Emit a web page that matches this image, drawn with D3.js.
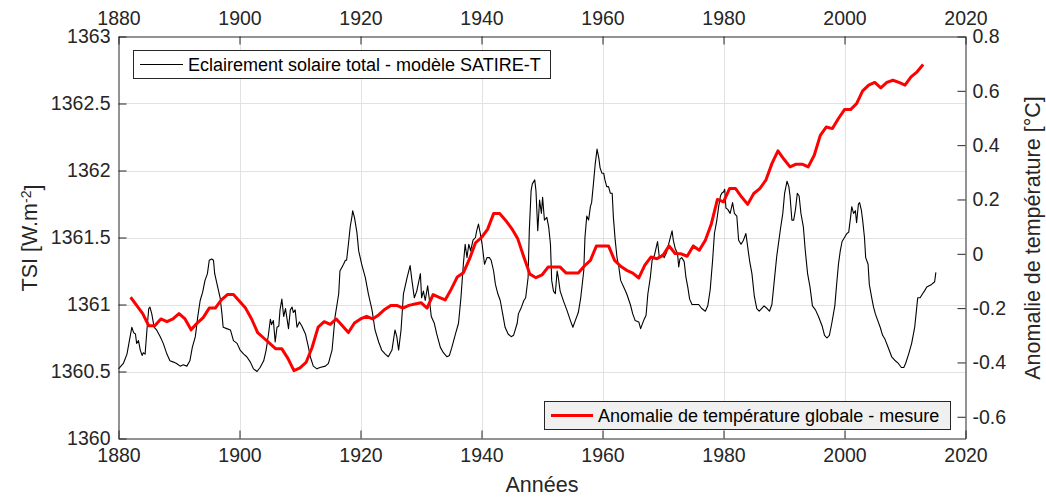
<!DOCTYPE html>
<html>
<head>
<meta charset="utf-8">
<script src="https://cdn.jsdelivr.net/npm/d3@7/dist/d3.min.js"></script>
<style>
  html, body { margin: 0; padding: 0; background: #fff; }
  svg { display: block; }
  text { font-family: "Liberation Sans", Arial, Helvetica, sans-serif; }
</style>
</head>
<body>
<svg id="chart" width="1046" height="499"></svg>
<script>
// ---------- DATA ----------
const xTicks = [1880, 1900, 1920, 1940, 1960, 1980, 2000, 2020];
const yLeftTicks = [1360, 1360.5, 1361, 1361.5, 1362, 1362.5, 1363];
const yRightTicks = [-0.6, -0.4, -0.2, 0, 0.2, 0.4, 0.6, 0.8];

// TSI (SATIRE-T model), W/m2
const tsiYears = [
1880.0,1880.8,1881.4,1881.8,1882.2,1882.5,1882.8,1883.0,1883.3,1883.6,1883.9,1884.1,1884.4,1884.7,1885.0,1885.2,1885.5,1885.9,1886.3,1886.9,
1887.4,1888.0,1888.5,1889.1,1889.6,1890.2,1890.7,1891.3,1891.8,1892.2,1892.7,1893.1,1893.5,1893.9,1894.3,1894.7,1895.0,1895.4,1895.7,1895.9,
1896.4,1896.8,1897.1,1897.3,1897.9,1898.5,1899.0,1899.6,1900.1,1900.7,1901.2,1901.8,1902.3,1902.9,1903.4,1904.0,1904.4,1904.8,1905.1,1905.3,
1905.6,1905.9,1906.2,1906.5,1906.7,1907.0,1907.3,1907.6,1907.8,1908.1,1908.4,1908.7,1908.9,1909.2,1909.5,1909.9,1910.3,1910.9,1911.4,1911.7,
1912.2,1912.8,1913.3,1914.2,1914.7,1915.3,1915.8,1916.4,1916.6,1917.2,1917.5,1917.7,1918.0,1918.3,1918.6,1918.7,1919.0,1919.4,1919.7,1920.2,
1920.8,1921.3,1921.9,1922.4,1923.0,1923.5,1924.1,1924.6,1925.2,1925.7,1926.0,1926.3,1926.7,1927.1,1927.7,1928.2,1928.5,1928.9,1929.3,1929.9,
1930.1,1930.4,1930.7,1931.1,1931.4,1931.7,1932.2,1932.6,1933.2,1933.7,1934.3,1934.7,1935.1,1935.7,1936.2,1936.6,1937.0,1937.3,1937.6,1937.9,
1938.2,1938.6,1939.0,1939.2,1939.5,1939.8,1940.1,1940.5,1940.9,1941.3,1941.6,1942.0,1942.3,1942.7,1943.1,1943.5,1943.9,1944.4,1944.9,1945.3,
1945.9,1946.1,1946.6,1947.0,1947.3,1947.7,1947.9,1948.2,1948.4,1948.8,1949.0,1949.3,1949.6,1949.9,1950.1,1950.4,1950.8,1951.1,1951.4,1951.6,
1951.9,1952.2,1952.5,1952.7,1953.0,1953.6,1954.1,1954.7,1955.1,1955.5,1956.0,1956.4,1956.9,1957.1,1957.4,1957.7,1958.0,1958.2,1958.5,1958.8,
1959.1,1959.4,1959.6,1959.9,1960.2,1960.4,1960.7,1961.0,1961.3,1961.6,1961.8,1962.1,1962.4,1962.7,1963.0,1963.5,1964.0,1964.6,1965.0,1965.4,
1966.0,1966.3,1966.8,1967.2,1967.5,1967.9,1968.2,1968.6,1968.9,1969.1,1969.4,1969.8,1970.2,1970.6,1971.1,1971.5,1971.7,1972.0,1972.4,1972.6,
1972.8,1973.1,1973.5,1973.8,1974.1,1974.4,1974.8,1975.3,1975.9,1976.4,1977.0,1977.4,1977.8,1978.2,1978.5,1978.9,1979.2,1979.5,1979.7,1980.0,
1980.2,1980.4,1980.7,1981.1,1981.5,1981.8,1982.2,1982.5,1982.9,1983.3,1983.7,1984.0,1984.3,1984.7,1985.1,1985.5,1985.9,1986.3,1986.7,1987.2,
1987.6,1988.0,1988.4,1988.8,1989.4,1989.8,1990.1,1990.5,1990.8,1991.0,1991.3,1991.6,1991.9,1992.2,1992.5,1992.8,1993.2,1993.5,1993.9,1994.3,
1994.7,1995.2,1995.7,1996.3,1996.7,1997.1,1997.5,1997.9,1998.4,1998.7,1999.0,1999.3,1999.6,2000.0,2000.4,2000.7,2001.0,2001.2,2001.5,2001.8,
2002.0,2002.3,2002.5,2002.8,2003.0,2003.3,2003.5,2003.9,2004.1,2004.5,2004.8,2005.1,2005.5,2005.9,2006.3,2006.7,2007.3,2007.8,2008.4,2008.9,
2009.4,2009.8,2010.1,2010.6,2011.1,2011.6,2011.9,2012.1,2012.5,2012.9,2013.2,2013.6,2014.0,2014.4,2014.9,2015.1
];
const tsiValues = [
1360.52,1360.56,1360.63,1360.73,1360.83,1360.79,1360.78,1360.71,1360.73,1360.66,1360.62,1360.64,1360.63,1360.81,1360.97,1360.98,1360.93,1360.83,1360.81,1360.76,
1360.71,1360.63,1360.58,1360.57,1360.56,1360.54,1360.55,1360.54,1360.58,1360.68,1360.76,1360.91,1361.03,1361.09,1361.18,1361.23,1361.33,1361.34,1361.33,1361.23,
1361.13,1361.05,1360.93,1360.83,1360.82,1360.81,1360.73,1360.71,1360.66,1360.63,1360.61,1360.57,1360.52,1360.50,1360.53,1360.58,1360.66,1360.78,1360.89,1360.85,
1360.88,1360.72,1360.83,1360.84,1360.96,1361.04,1360.91,1360.97,1360.91,1360.82,1360.96,1360.98,1360.94,1360.96,1360.83,1360.87,1360.84,1360.78,1360.68,1360.61,
1360.54,1360.52,1360.53,1360.54,1360.56,1360.66,1360.91,1361.08,1361.25,1361.30,1361.33,1361.33,1361.45,1361.58,1361.66,1361.70,1361.65,1361.54,1361.40,1361.30,
1361.20,1361.08,1360.96,1360.81,1360.72,1360.66,1360.63,1360.61,1360.66,1360.81,1360.76,1360.66,1360.81,1361.08,1361.20,1361.29,1361.18,1361.05,1361.10,1361.23,
1361.05,1361.10,1361.03,1361.14,1361.03,1360.91,1360.86,1360.78,1360.68,1360.64,1360.61,1360.62,1360.68,1360.78,1360.86,1361.05,1361.30,1361.45,1361.35,1361.45,
1361.40,1361.48,1361.50,1361.55,1361.60,1361.53,1361.45,1361.30,1361.35,1361.35,1361.33,1361.25,1361.15,1361.08,1361.03,1360.93,1360.83,1360.78,1360.76,1360.77,
1360.86,1360.93,1360.98,1361.03,1361.05,1361.20,1361.55,1361.85,1361.90,1361.93,1361.85,1361.55,1361.78,1361.68,1361.80,1361.63,1361.65,1361.58,1361.45,1361.18,
1361.10,1361.08,1361.25,1361.20,1361.10,1361.02,1360.96,1360.88,1360.83,1360.88,1360.94,1361.05,1361.25,1361.50,1361.66,1361.63,1361.73,1361.76,1361.90,1362.05,
1362.16,1362.09,1362.02,1361.98,1361.98,1361.93,1361.88,1361.88,1361.83,1361.83,1361.65,1361.48,1361.35,1361.28,1361.18,1361.13,1361.08,1361.00,1360.93,1360.88,
1360.87,1360.82,1360.88,1360.92,1361.08,1361.20,1361.33,1361.37,1361.43,1361.47,1361.35,1361.37,1361.35,1361.39,1361.48,1361.55,1361.48,1361.42,1361.38,1361.28,
1361.34,1361.35,1361.32,1361.20,1361.13,1361.04,1361.00,1361.00,1361.00,1360.97,1360.95,1360.99,1361.11,1361.33,1361.53,1361.63,1361.73,1361.81,1361.83,1361.84,
1361.86,1361.72,1361.71,1361.68,1361.76,1361.68,1361.66,1361.48,1361.45,1361.48,1361.53,1361.43,1361.33,1361.23,1361.06,1360.97,1360.95,1360.97,1360.99,1360.97,
1360.95,1361.00,1361.18,1361.36,1361.56,1361.68,1361.83,1361.92,1361.88,1361.81,1361.63,1361.63,1361.71,1361.83,1361.81,1361.68,1361.58,1361.41,1361.23,1361.13,
1360.99,1360.96,1360.91,1360.84,1360.77,1360.75,1360.77,1360.86,1360.99,1361.15,1361.30,1361.40,1361.47,1361.50,1361.53,1361.54,1361.65,1361.73,1361.68,1361.70,
1361.61,1361.75,1361.76,1361.70,1361.63,1361.50,1361.35,1361.30,1361.15,1361.05,1360.98,1360.93,1360.88,1360.83,1360.77,1360.74,1360.67,1360.61,1360.58,1360.56,
1360.53,1360.53,1360.56,1360.63,1360.71,1360.83,1360.96,1361.05,1361.05,1361.08,1361.10,1361.13,1361.14,1361.15,1361.17,1361.24
];

// Global temperature anomaly (measured, smoothed), degC
const tempYears = [
1882,1883,1884,1885,1886,1887,1888,1889,1890,1891,1892,1893,1894,1895,1896,1897,1898,1899,1900,1901,
1902,1903,1904,1905,1906,1907,1908,1909,1910,1911,1912,1913,1914,1915,1916,1917,1918,1919,1920,1921,
1922,1923,1924,1925,1926,1927,1928,1929,1930,1931,1932,1933,1934,1935,1936,1937,1938,1939,1940,1941,
1942,1943,1944,1945,1946,1947,1948,1949,1950,1951,1952,1953,1954,1955,1956,1957,1958,1959,1960,1961,
1962,1963,1964,1965,1966,1967,1968,1969,1970,1971,1972,1973,1974,1975,1976,1977,1978,1979,1980,1981,
1982,1983,1984,1985,1986,1987,1988,1989,1990,1991,1992,1993,1994,1995,1996,1997,1998,1999,2000,2001,
2002,2003,2004,2005,2006,2007,2008,2009,2010,2011,2012,2013
];
const tempValues = [
-0.16,-0.19,-0.22,-0.265,-0.265,-0.24,-0.25,-0.24,-0.22,-0.24,-0.28,-0.255,-0.235,-0.20,-0.20,-0.17,-0.15,-0.15,-0.175,-0.20,
-0.24,-0.29,-0.31,-0.33,-0.35,-0.35,-0.385,-0.43,-0.42,-0.40,-0.345,-0.27,-0.25,-0.26,-0.24,-0.265,-0.29,-0.255,-0.24,-0.23,
-0.24,-0.225,-0.205,-0.19,-0.19,-0.20,-0.19,-0.185,-0.18,-0.20,-0.15,-0.16,-0.17,-0.13,-0.085,-0.07,-0.02,0.04,0.06,0.09,
0.148,0.148,0.123,0.093,0.055,-0.012,-0.075,-0.088,-0.078,-0.049,-0.049,-0.049,-0.071,-0.071,-0.071,-0.045,-0.024,0.029,0.029,0.029,
-0.024,-0.046,-0.061,-0.071,-0.089,-0.042,-0.012,-0.018,-0.006,0.029,0.001,0.0,-0.009,0.029,0.013,0.05,0.111,0.20,0.191,0.24,
0.24,0.209,0.182,0.222,0.24,0.271,0.332,0.379,0.348,0.32,0.33,0.33,0.32,0.363,0.436,0.467,0.461,0.498,0.531,0.531,
0.553,0.60,0.621,0.631,0.611,0.631,0.639,0.631,0.621,0.651,0.67,0.697
];

const legendLabels = ["Eclairement solaire total - modèle SATIRE-T", "Anomalie de température globale - mesure"];

// ---------- LAYOUT ----------
const svg = d3.select("#chart");
const pL = 118.5, pR = 965.5, pT = 36.5, pB = 438.5;
const axisColor = "#262626";

const x = d3.scaleLinear().domain([1880, 2020]).range([pL, pR]);
const yL = d3.scaleLinear().domain([1360, 1363]).range([pB, pT]);
const yR = d3.scaleLinear().domain([-0.68, 0.8]).range([pB, pT]);

// grid
const grid = svg.append("g");
grid.selectAll("line.v").data(xTicks.slice(1, -1)).join("line")
  .attr("x1", d => Math.round(x(d)) + 0.5).attr("x2", d => Math.round(x(d)) + 0.5)
  .attr("y1", pT).attr("y2", pB)
  .attr("stroke", "#e2e2e2").attr("stroke-width", 1);
grid.selectAll("line.h").data(yLeftTicks.slice(1, -1)).join("line")
  .attr("y1", d => Math.round(yL(d)) + 0.5).attr("y2", d => Math.round(yL(d)) + 0.5)
  .attr("x1", pL).attr("x2", pR)
  .attr("stroke", "#e2e2e2").attr("stroke-width", 1);

// lines
const tsiData = tsiYears.map((d, i) => [d, tsiValues[i]]);
const tempData = tempYears.map((d, i) => [d, tempValues[i]]);

svg.append("path").datum(tsiData)
  .attr("fill", "none").attr("stroke", "#000").attr("stroke-width", 1.1)
  .attr("stroke-linejoin", "round")
  .attr("d", d3.line().x(d => x(d[0])).y(d => yL(d[1])));

svg.append("path").datum(tempData)
  .attr("fill", "none").attr("stroke", "#ff0000").attr("stroke-width", 3)
  .attr("stroke-linejoin", "round")
  .attr("d", d3.line().x(d => x(d[0])).y(d => yR(d[1])));

// axes
const tickFont = "19.5px";
function styleAxis(g) {
  g.select(".domain").attr("stroke", axisColor).attr("stroke-width", 1);
  g.selectAll(".tick line").attr("stroke", axisColor).attr("stroke-width", 1);
  g.selectAll(".tick text").attr("fill", axisColor)
    .style("font-family", '"Liberation Sans", Arial, Helvetica, sans-serif')
    .style("font-size", tickFont);
}
svg.append("g").attr("transform", `translate(0,${pB})`)
  .call(d3.axisBottom(x).tickValues(xTicks).tickFormat(d3.format("d")).tickSizeInner(-8).tickSizeOuter(0).tickPadding(10))
  .call(styleAxis);
svg.append("g").attr("transform", `translate(0,${pT})`)
  .call(d3.axisTop(x).tickValues(xTicks).tickFormat(d3.format("d")).tickSizeInner(-8).tickSizeOuter(0).tickPadding(12))
  .call(styleAxis);
svg.append("g").attr("transform", `translate(${pL},0)`)
  .call(d3.axisLeft(yL).tickValues(yLeftTicks).tickFormat(d => String(d)).tickSizeInner(-8).tickSizeOuter(0).tickPadding(8))
  .call(styleAxis);
svg.append("g").attr("transform", `translate(${pR},0)`)
  .call(d3.axisRight(yR).tickValues(yRightTicks).tickFormat(d => d === 0 ? "0" : (d < 0 ? "-" : "") + Math.abs(d).toFixed(1)).tickSizeInner(-8).tickSizeOuter(0).tickPadding(7))
  .call(styleAxis);

// axis labels
const labelFont = "21.5px";
svg.append("text").attr("x", (pL + pR) / 2).attr("y", 492)
  .attr("text-anchor", "middle").attr("fill", axisColor).style("font-size", labelFont)
  .text("Années");

const tsiLabel = svg.append("text")
  .attr("transform", "translate(37,238) rotate(-90)")
  .attr("text-anchor", "middle").attr("fill", axisColor).style("font-size", labelFont);
tsiLabel.append("tspan").text("TSI [W.m");
tsiLabel.append("tspan").attr("dy", "-0.45em").style("font-size", "14px").text("-2");
tsiLabel.append("tspan").attr("dy", "0.45em").text("]");

svg.append("text")
  .attr("transform", "translate(1040,238) rotate(-90)")
  .attr("text-anchor", "middle").attr("fill", axisColor).style("font-size", labelFont)
  .text("Anomalie de température [°C]");

// legends
const legFont = "18px";
const leg1 = svg.append("g");
leg1.append("rect").attr("x", 133.5).attr("y", 50.5).attr("width", 417).attr("height", 28)
  .attr("fill", "#fff").attr("stroke", axisColor).attr("stroke-width", 1);
leg1.append("line").attr("x1", 140).attr("x2", 183).attr("y1", 64.5).attr("y2", 64.5)
  .attr("stroke", "#000").attr("stroke-width", 1);
leg1.append("text").attr("x", 188).attr("y", 71).attr("fill", "#000").style("font-size", legFont)
  .text(legendLabels[0]);

const leg2 = svg.append("g");
leg2.append("rect").attr("x", 544.5).attr("y", 401.5).attr("width", 406).attr("height", 28)
  .attr("fill", "#f0f0f0").attr("stroke", axisColor).attr("stroke-width", 1);
leg2.append("line").attr("x1", 551).attr("x2", 593).attr("y1", 415.5).attr("y2", 415.5)
  .attr("stroke", "#ff0000").attr("stroke-width", 3);
leg2.append("text").attr("x", 598).attr("y", 422).attr("fill", "#000").style("font-size", legFont)
  .text(legendLabels[1]);
</script>
</body>
</html>
